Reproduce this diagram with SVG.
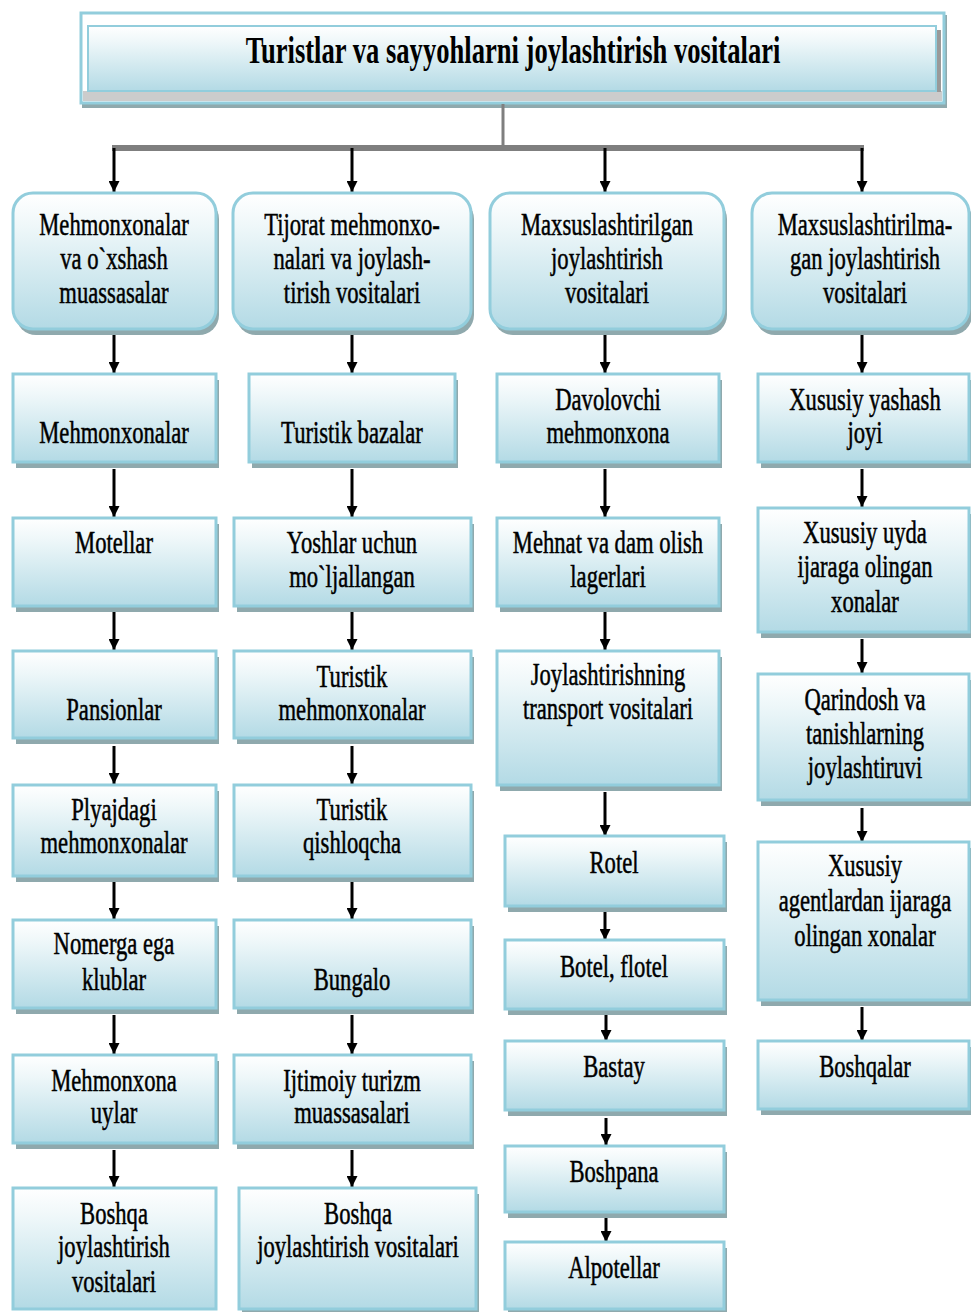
<svg xmlns="http://www.w3.org/2000/svg" width="971" height="1312" viewBox="0 0 971 1312">
<defs>
<linearGradient id="g" x1="0" y1="0" x2="0" y2="1">
<stop offset="0" stop-color="#ffffff"/>
<stop offset="0.25" stop-color="#eef7f9"/>
<stop offset="1" stop-color="#b3dae5"/>
</linearGradient>
<marker id="ah" viewBox="0 0 10 10" refX="10" refY="5" markerWidth="11" markerHeight="11" markerUnits="userSpaceOnUse" orient="auto">
<path d="M0,0 L10,5 L0,10 z" fill="#000"/>
</marker>
<style>
.box{fill:url(#g);stroke:#92cddc;stroke-width:3}
.sh{fill:#8fa9ad}
.t{font-family:"Liberation Serif","Times New Roman",serif;font-size:31px;fill:#000;stroke:#000;stroke-width:0.5;text-anchor:middle}
.tt{font-family:"Liberation Serif","Times New Roman",serif;font-size:38px;font-weight:bold;fill:#000;text-anchor:middle}
.c{fill:none;stroke:#000;stroke-width:3;marker-end:url(#ah)}
</style>
</defs>
<rect width="971" height="1312" fill="#fff"/>

<g id="title">
<rect x="82" y="15" width="865" height="93" fill="#8fa9ad"/>
<rect x="81" y="13" width="863" height="90" fill="#fff" stroke="#92cddc" stroke-width="3"/>
<rect x="83" y="91" width="859" height="10" fill="#cccccc"/>
<rect x="936" y="30" width="5" height="62" fill="#999"/>
<rect x="88" y="26" width="848" height="65" fill="url(#g)" stroke="#92cddc" stroke-width="2"/>
<text class="tt" transform="matrix(0.7 0 0 1 513 0)" x="0" y="63">Turistlar va sayyohlarni joylashtirish vositalari</text>
</g>

<g id="connectors">
<path d="M503,104 V148" fill="none" stroke="#7f7f7f" stroke-width="3"/>
<path d="M112,148 H864" fill="none" stroke="#7f7f7f" stroke-width="6"/>
<path class="c" d="M114,148 V192"/>
<path class="c" d="M352,148 V192"/>
<path class="c" d="M605,148 V192"/>
<path class="c" d="M862,148 V192"/>
<path class="c" d="M114,332 V373"/>
<path class="c" d="M114,469 V517"/>
<path class="c" d="M114,612 V650"/>
<path class="c" d="M114,746 V784"/>
<path class="c" d="M114,880 V919"/>
<path class="c" d="M114,1015 V1054"/>
<path class="c" d="M114,1150 V1187"/>
<path class="c" d="M352,332 V373"/>
<path class="c" d="M352,469 V517"/>
<path class="c" d="M352,612 V650"/>
<path class="c" d="M352,746 V784"/>
<path class="c" d="M352,880 V919"/>
<path class="c" d="M352,1015 V1054"/>
<path class="c" d="M352,1150 V1187"/>
<path class="c" d="M605,332 V373"/>
<path class="c" d="M605,469 V517"/>
<path class="c" d="M605,612 V650"/>
<path class="c" d="M605,792 V836"/>
<path class="c" d="M605,912 V940"/>
<path class="c" d="M606,1015 V1041"/>
<path class="c" d="M606,1118 V1145"/>
<path class="c" d="M606,1218 V1242"/>
<path class="c" d="M862,332 V373"/>
<path class="c" d="M862,469 V507"/>
<path class="c" d="M862,639 V673"/>
<path class="c" d="M862,808 V842"/>
<path class="c" d="M862,1007 V1041"/>
</g>

<g id="n1a"><rect class="sh" x="16" y="199" width="203" height="136" rx="20"/><rect class="box" x="13" y="193" width="203" height="136" rx="20"/>
<text class="t" transform="matrix(0.73 0 0 1 114 0)"><tspan x="0" y="235">Mehmonxonalar</tspan><tspan x="0" y="269">va o`xshash</tspan><tspan x="0" y="303">muassasalar</tspan></text></g>
<g id="n1b"><rect class="sh" x="236" y="199" width="238" height="136" rx="20"/><rect class="box" x="233" y="193" width="238" height="136" rx="20"/>
<text class="t" transform="matrix(0.73 0 0 1 352 0)"><tspan x="0" y="235">Tijorat mehmonxo-</tspan><tspan x="0" y="269">nalari va joylash-</tspan><tspan x="0" y="303">tirish vositalari</tspan></text></g>
<g id="n1c"><rect class="sh" x="493" y="199" width="234" height="136" rx="20"/><rect class="box" x="490" y="193" width="234" height="136" rx="20"/>
<text class="t" transform="matrix(0.73 0 0 1 607 0)"><tspan x="0" y="235">Maxsuslashtirilgan</tspan><tspan x="0" y="269">joylashtirish</tspan><tspan x="0" y="303">vositalari</tspan></text></g>
<g id="n1d"><rect class="sh" x="755" y="199" width="217" height="136" rx="20"/><rect class="box" x="752" y="193" width="217" height="136" rx="20"/>
<text class="t" transform="matrix(0.73 0 0 1 865 0)"><tspan x="0" y="235">Maxsuslashtirilma-</tspan><tspan x="0" y="269">gan joylashtirish</tspan><tspan x="0" y="303">vositalari</tspan></text></g>

<g id="n2a"><rect class="sh" x="16" y="380" width="203" height="88"/><rect class="box" x="13" y="374" width="203" height="88"/>
<text class="t" transform="matrix(0.73 0 0 1 114 0)"><tspan x="0" y="443">Mehmonxonalar</tspan></text></g>
<g id="n2b"><rect class="sh" x="252" y="380" width="206" height="88"/><rect class="box" x="249" y="374" width="206" height="88"/>
<text class="t" transform="matrix(0.73 0 0 1 352 0)"><tspan x="0" y="443">Turistik bazalar</tspan></text></g>
<g id="n2c"><rect class="sh" x="500" y="380" width="222" height="88"/><rect class="box" x="497" y="374" width="222" height="88"/>
<text class="t" transform="matrix(0.73 0 0 1 608 0)"><tspan x="0" y="410">Davolovchi</tspan><tspan x="0" y="443">mehmonxona</tspan></text></g>
<g id="n2d"><rect class="sh" x="761" y="380" width="211" height="88"/><rect class="box" x="758" y="374" width="211" height="88"/>
<text class="t" transform="matrix(0.73 0 0 1 865 0)"><tspan x="0" y="410">Xususiy yashash</tspan><tspan x="0" y="443">joyi</tspan></text></g>

<g id="n3a"><rect class="sh" x="16" y="524" width="203" height="88"/><rect class="box" x="13" y="518" width="203" height="88"/>
<text class="t" transform="matrix(0.73 0 0 1 114 0)"><tspan x="0" y="553">Motellar</tspan></text></g>
<g id="n3b"><rect class="sh" x="237" y="524" width="237" height="88"/><rect class="box" x="234" y="518" width="237" height="88"/>
<text class="t" transform="matrix(0.73 0 0 1 352 0)"><tspan x="0" y="553">Yoshlar uchun</tspan><tspan x="0" y="587">mo`ljallangan</tspan></text></g>
<g id="n3c"><rect class="sh" x="500" y="524" width="222" height="88"/><rect class="box" x="497" y="518" width="222" height="88"/>
<text class="t" transform="matrix(0.73 0 0 1 608 0)"><tspan x="0" y="553">Mehnat va dam olish</tspan><tspan x="0" y="587">lagerlari</tspan></text></g>
<g id="n3d"><rect class="sh" x="761" y="514" width="211" height="124"/><rect class="box" x="758" y="508" width="211" height="124"/>
<text class="t" transform="matrix(0.73 0 0 1 865 0)"><tspan x="0" y="543">Xususiy uyda</tspan><tspan x="0" y="577">ijaraga olingan</tspan><tspan x="0" y="612">xonalar</tspan></text></g>

<g id="n4a"><rect class="sh" x="16" y="657" width="203" height="87"/><rect class="box" x="13" y="651" width="203" height="87"/>
<text class="t" transform="matrix(0.73 0 0 1 114 0)"><tspan x="0" y="720">Pansionlar</tspan></text></g>
<g id="n4b"><rect class="sh" x="237" y="657" width="237" height="87"/><rect class="box" x="234" y="651" width="237" height="87"/>
<text class="t" transform="matrix(0.73 0 0 1 352 0)"><tspan x="0" y="687">Turistik</tspan><tspan x="0" y="720">mehmonxonalar</tspan></text></g>
<g id="n4c"><rect class="sh" x="500" y="657" width="222" height="134"/><rect class="box" x="497" y="651" width="222" height="134"/>
<text class="t" transform="matrix(0.73 0 0 1 608 0)"><tspan x="0" y="685">Joylashtirishning</tspan><tspan x="0" y="719">transport vositalari</tspan></text></g>
<g id="n4d"><rect class="sh" x="761" y="680" width="211" height="126"/><rect class="box" x="758" y="674" width="211" height="126"/>
<text class="t" transform="matrix(0.73 0 0 1 865 0)"><tspan x="0" y="710">Qarindosh va</tspan><tspan x="0" y="744">tanishlarning</tspan><tspan x="0" y="778">joylashtiruvi</tspan></text></g>

<g id="n5a"><rect class="sh" x="16" y="791" width="203" height="91"/><rect class="box" x="13" y="785" width="203" height="91"/>
<text class="t" transform="matrix(0.73 0 0 1 114 0)"><tspan x="0" y="820">Plyajdagi</tspan><tspan x="0" y="853">mehmonxonalar</tspan></text></g>
<g id="n5b"><rect class="sh" x="237" y="791" width="237" height="91"/><rect class="box" x="234" y="785" width="237" height="91"/>
<text class="t" transform="matrix(0.73 0 0 1 352 0)"><tspan x="0" y="820">Turistik</tspan><tspan x="0" y="853">qishloqcha</tspan></text></g>
<g id="n5c"><rect class="sh" x="508" y="842" width="219" height="70"/><rect class="box" x="505" y="836" width="219" height="70"/>
<text class="t" transform="matrix(0.73 0 0 1 614 0)"><tspan x="0" y="873">Rotel</tspan></text></g>
<g id="n5d"><rect class="sh" x="761" y="848" width="211" height="158"/><rect class="box" x="758" y="842" width="211" height="158"/>
<text class="t" transform="matrix(0.73 0 0 1 865 0)"><tspan x="0" y="876">Xususiy</tspan><tspan x="0" y="911">agentlardan ijaraga</tspan><tspan x="0" y="946">olingan xonalar</tspan></text></g>

<g id="n6a"><rect class="sh" x="16" y="926" width="203" height="88"/><rect class="box" x="13" y="920" width="203" height="88"/>
<text class="t" transform="matrix(0.73 0 0 1 114 0)"><tspan x="0" y="954">Nomerga ega</tspan><tspan x="0" y="990">klublar</tspan></text></g>
<g id="n6b"><rect class="sh" x="237" y="926" width="237" height="88"/><rect class="box" x="234" y="920" width="237" height="88"/>
<text class="t" transform="matrix(0.73 0 0 1 352 0)"><tspan x="0" y="990">Bungalo</tspan></text></g>
<g id="n6c"><rect class="sh" x="508" y="946" width="219" height="69"/><rect class="box" x="505" y="940" width="219" height="69"/>
<text class="t" transform="matrix(0.73 0 0 1 614 0)"><tspan x="0" y="977">Botel, flotel</tspan></text></g>
<g id="n6d"><rect class="sh" x="761" y="1047" width="211" height="68"/><rect class="box" x="758" y="1041" width="211" height="68"/>
<text class="t" transform="matrix(0.73 0 0 1 865 0)"><tspan x="0" y="1077">Boshqalar</tspan></text></g>

<g id="n7a"><rect class="sh" x="16" y="1061" width="203" height="88"/><rect class="box" x="13" y="1055" width="203" height="88"/>
<text class="t" transform="matrix(0.73 0 0 1 114 0)"><tspan x="0" y="1091">Mehmonxona</tspan><tspan x="0" y="1123">uylar</tspan></text></g>
<g id="n7b"><rect class="sh" x="237" y="1061" width="237" height="88"/><rect class="box" x="234" y="1055" width="237" height="88"/>
<text class="t" transform="matrix(0.73 0 0 1 352 0)"><tspan x="0" y="1091">Ijtimoiy turizm</tspan><tspan x="0" y="1123">muassasalari</tspan></text></g>
<g id="n7c"><rect class="sh" x="508" y="1047" width="219" height="69"/><rect class="box" x="505" y="1041" width="219" height="69"/>
<text class="t" transform="matrix(0.73 0 0 1 614 0)"><tspan x="0" y="1077">Bastay</tspan></text></g>

<g id="n8a"><rect class="box" x="13" y="1188" width="203" height="121"/>
<text class="t" transform="matrix(0.73 0 0 1 114 0)"><tspan x="0" y="1224">Boshqa</tspan><tspan x="0" y="1257">joylashtirish</tspan><tspan x="0" y="1292">vositalari</tspan></text></g>
<g id="n8b"><rect class="sh" x="242" y="1194" width="237" height="121"/><rect class="box" x="239" y="1188" width="237" height="121"/>
<text class="t" transform="matrix(0.73 0 0 1 358 0)"><tspan x="0" y="1224">Boshqa</tspan><tspan x="0" y="1257">joylashtirish vositalari</tspan></text></g>
<g id="n8c"><rect class="sh" x="508" y="1152" width="219" height="66"/><rect class="box" x="505" y="1146" width="219" height="66"/>
<text class="t" transform="matrix(0.73 0 0 1 614 0)"><tspan x="0" y="1182">Boshpana</tspan></text></g>

<g id="n9c"><rect class="sh" x="508" y="1248" width="219" height="67"/><rect class="box" x="505" y="1242" width="219" height="67"/>
<text class="t" transform="matrix(0.73 0 0 1 614 0)"><tspan x="0" y="1278">Alpotellar</tspan></text></g>
</svg>
